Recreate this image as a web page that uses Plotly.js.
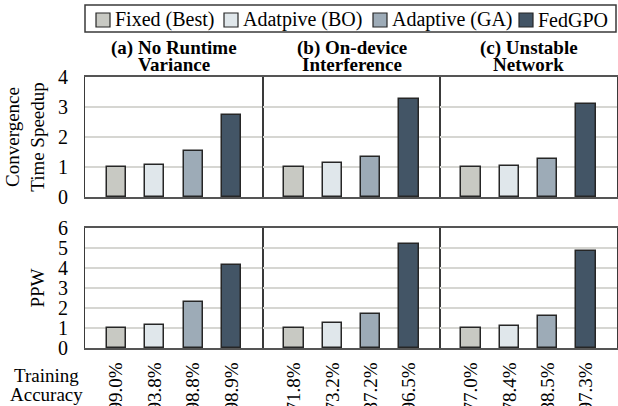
<!DOCTYPE html>
<html>
<head>
<meta charset="utf-8">
<script src="https://cdn.plot.ly/plotly-3.0.1.min.js"></script>
<style>
html,body{margin:0;padding:0;background:#fff;}
#chart{width:618px;height:406px;}
</style>
</head>
<body>
<div id="chart"></div>
<script>
// ---- data ----
const methods = ['Fixed (Best)', 'Adatpive (BO)', 'Adaptive (GA)', 'FedGPO'];
const methodColors = ['#c8c9c3', '#e0e7eb', '#9dabb7', '#435566'];
const panelLine1 = ['(a) No Runtime', '(b) On-device', '(c) Unstable'];
const panelLine2 = ['Variance', 'Interference', 'Network'];
const speedupA = [1.00, 1.06, 1.54, 2.75];
const speedupB = [1.00, 1.15, 1.33, 3.27];
const speedupC = [1.00, 1.05, 1.26, 3.09];
const ppwA = [1.00, 1.16, 2.32, 4.14];
const ppwB = [1.00, 1.24, 1.71, 5.22];
const ppwC = [1.00, 1.12, 1.59, 4.83];
const accA = ['99.0%', '93.8%', '98.8%', '98.9%'];
const accB = ['71.8%', '73.2%', '87.2%', '96.5%'];
const accC = ['77.0%', '78.4%', '88.5%', '97.3%'];

// ---- layout helpers ----
const W = 618, H = 406;
const M = {l: 85, r: 1, t: 77, b: 58};
const PW = W - M.l - M.r, PH = H - M.t - M.b;
const toPx = x => (x - M.l) / PW;
const toPy = y => (H - M.b - y) / PH;
const FONT = 'Liberation Serif';
const LINE = '#3a3a3a';

const speedups = [speedupA, speedupB, speedupC];
const ppws = [ppwA, ppwB, ppwC];
const accs = [accA, accB, accC];

const colEdges = [85, 263, 440, 617];
const traces = [];
const layout = {
  width: W, height: H,
  margin: M,
  paper_bgcolor: '#fff', plot_bgcolor: '#fff',
  showlegend: false,
  bargap: 0,
  font: {family: FONT, size: 19, color: '#000'},
  annotations: [], shapes: []
};

for (let c = 0; c < 3; c++) {
  const dom = [toPx(colEdges[c]), toPx(colEdges[c + 1])];
  const topX = 'x' + (c === 0 ? '' : (c + 1));
  const botX = 'x' + (c + 4);
  traces.push({
    type: 'bar', x: methods, y: speedups[c], xaxis: topX, yaxis: 'y',
    width: 0.5, marker: {color: methodColors, line: {color: '#262626', width: 1.5}}
  });
  traces.push({
    type: 'bar', x: methods, y: ppws[c], xaxis: botX, yaxis: 'y2',
    width: 0.5, marker: {color: methodColors, line: {color: '#262626', width: 1.5}}
  });
  const common = {
    domain: dom, type: 'category', range: [-0.81, 3.81],
    showline: true, linecolor: '#555555', linewidth: 1.5, mirror: true,
    showgrid: false, zeroline: false, fixedrange: true
  };
  layout['xaxis' + (c === 0 ? '' : (c + 1))] = Object.assign({}, common, {
    anchor: 'y', showticklabels: false, ticks: ''
  });
  layout['xaxis' + (c + 4)] = Object.assign({}, common, {
    anchor: 'y2', tickmode: 'array', tickvals: methods, ticktext: accs[c],
    tickangle: -90, ticks: 'outside', ticklen: 5, tickcolor: 'rgba(0,0,0,0)',
    tickfont: {family: FONT, size: 19, color: '#000'}
  });
  const cx = (dom[0] + dom[1]) / 2;
  layout.annotations.push({
    xref: 'paper', yref: 'paper', x: cx, y: toPy(47.5),
    xanchor: 'center', yanchor: 'middle', showarrow: false,
    text: '<b>' + panelLine1[c] + '</b>',
    font: {family: FONT, size: 19, color: '#000'}
  });
  layout.annotations.push({
    xref: 'paper', yref: 'paper', x: cx, y: toPy(65),
    xanchor: 'center', yanchor: 'middle', showarrow: false,
    text: '<b>' + panelLine2[c] + '</b>',
    font: {family: FONT, size: 19, color: '#000'}
  });
}

const yCommon = {
  anchor: 'x', showline: true, linecolor: LINE, linewidth: 1, mirror: 'all',
  showgrid: true, gridcolor: '#d6d6d2', gridwidth: 1.5, zeroline: false,
  ticks: 'outside', ticklen: 12, tickcolor: 'rgba(0,0,0,0)', dtick: 1,
  tickfont: {family: FONT, size: 20, color: '#000'}, fixedrange: true
};
layout.yaxis = Object.assign({}, yCommon, {
  domain: [toPy(197), 1], range: [0, 4],
  title: {text: 'Convergence<br>Time Speedup', font: {family: FONT, size: 19, color: '#000'}, standoff: 8}
});
layout.yaxis2 = Object.assign({}, yCommon, {
  anchor: 'x4', domain: [0, toPy(228)], range: [0, 6],
  title: {text: 'PPW', font: {family: FONT, size: 19, color: '#000'}, standoff: 8}
});

// Training Accuracy label (two lines)
layout.annotations.push({
  xref: 'paper', yref: 'paper', x: toPx(46), y: toPy(375), xanchor: 'center', yanchor: 'middle',
  showarrow: false, text: 'Training', font: {family: FONT, size: 19, color: '#000'}
});
layout.annotations.push({
  xref: 'paper', yref: 'paper', x: toPx(46), y: toPy(394), xanchor: 'center', yanchor: 'middle',
  showarrow: false, text: 'Accuracy', font: {family: FONT, size: 19, color: '#000'}
});

// legend box
layout.shapes.push({
  type: 'rect', xref: 'paper', yref: 'paper', x0: toPx(85), x1: toPx(616), y0: toPy(32), y1: toPy(5),
  line: {color: LINE, width: 1.5}, fillcolor: 'rgba(0,0,0,0)'
});
const swatchX = [96, 224, 373, 519];
for (let i = 0; i < methods.length; i++) {
  layout.shapes.push({
    type: 'rect', xref: 'paper', yref: 'paper',
    x0: toPx(swatchX[i]), x1: toPx(swatchX[i] + 14), y0: toPy(27), y1: toPy(13),
    fillcolor: methodColors[i], line: {color: '#262626', width: 1.2}
  });
  layout.annotations.push({
    xref: 'paper', yref: 'paper', x: toPx(swatchX[i] + 17), y: toPy(19.5),
    xanchor: 'left', yanchor: 'middle', showarrow: false, text: methods[i],
    font: {family: FONT, size: 20, color: '#000'}
  });
}

Plotly.newPlot('chart', traces, layout, {displayModeBar: false});
</script>
</body>
</html>
